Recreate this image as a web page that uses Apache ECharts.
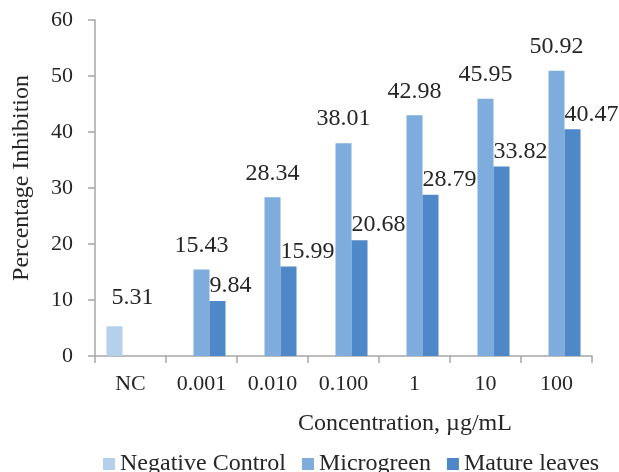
<!DOCTYPE html>
<html><head><meta charset="utf-8">
<script src="https://cdn.jsdelivr.net/npm/echarts@6/dist/echarts.min.js"></script>
<style>html,body{margin:0;padding:0;background:#fff}#c{width:619px;height:472px}</style>
</head><body><div id="c"></div>
<script>
var categories = ['NC', '0.001', '0.010', '0.100', '1', '10', '100'];
var negativeControl = [5.31, null, null, null, null, null, null];
var microgreen = [null, 15.43, 28.34, 38.01, 42.98, 45.95, 50.92];
var matureLeaves = [null, 9.84, 15.99, 20.68, 28.79, 33.82, 40.47];
var yTicks = [0, 10, 20, 30, 40, 50, 60];

var FONT = '"Liberation Serif", "Times New Roman", serif';
var TXT = '#262626';
var AX = '#a6a6a6';
var chart = echarts.init(document.getElementById('c'), null, {renderer: 'canvas'});
chart.setOption({
  animation: false,
  grid: {left: 95, right: 27, top: 20, bottom: 116},
  legend: {
    left: 103, top: 452, padding: 0, itemWidth: 12, itemHeight: 12, itemGap: 16,
    icon: 'rect',
    textStyle: {fontFamily: FONT, fontSize: 24, color: TXT},
    data: ['Negative Control', 'Microgreen', 'Mature leaves']
  },
  xAxis: {
    type: 'category', data: categories,
    name: 'Concentration, µg/mL', nameLocation: 'middle', nameGap: 56,
    nameTextStyle: {fontFamily: FONT, fontSize: 24, color: TXT, padding: [0, 0, 0, 123]},
    axisLine: {lineStyle: {color: AX, width: 1.5}},
    axisTick: {show: true, length: 7, lineStyle: {color: AX, width: 1.5}},
    axisLabel: {fontFamily: FONT, fontSize: 22, color: TXT, margin: 17}
  },
  yAxis: {
    type: 'value', min: yTicks[0], max: yTicks[yTicks.length - 1], interval: 10,
    name: 'Percentage Inhibition', nameLocation: 'middle', nameGap: 61,
    nameTextStyle: {fontFamily: FONT, fontSize: 24, color: TXT, padding: [0, 0, 0, 20]},
    axisLine: {show: true, lineStyle: {color: AX, width: 1.5}},
    axisTick: {show: true, length: 7, lineStyle: {color: AX, width: 1.5}},
    splitLine: {show: false},
    axisLabel: {fontFamily: FONT, fontSize: 22, color: TXT, margin: 22}
  },
  series: [
    {name: 'Negative Control', type: 'bar', data: negativeControl, barWidth: 16, barGap: '0%',
     itemStyle: {color: '#b4d0ec'},
     label: {show: true, position: [5, -17], align: 'left', verticalAlign: 'bottom',
       fontFamily: FONT, fontSize: 24, color: TXT}},
    {name: 'Microgreen', type: 'bar', data: microgreen, barWidth: 16, barGap: '0%',
     itemStyle: {color: '#7eacdc'},
     label: {show: true, position: [8, -12], align: 'center', verticalAlign: 'bottom',
       fontFamily: FONT, fontSize: 24, color: TXT}},
    {name: 'Mature leaves', type: 'bar', data: matureLeaves, barWidth: 16, barGap: '0%',
     itemStyle: {color: '#4f88c8'},
     label: {show: true, position: [0, -3], align: 'left', verticalAlign: 'bottom',
       fontFamily: FONT, fontSize: 24, color: TXT}}
  ]
});
</script></body></html>
